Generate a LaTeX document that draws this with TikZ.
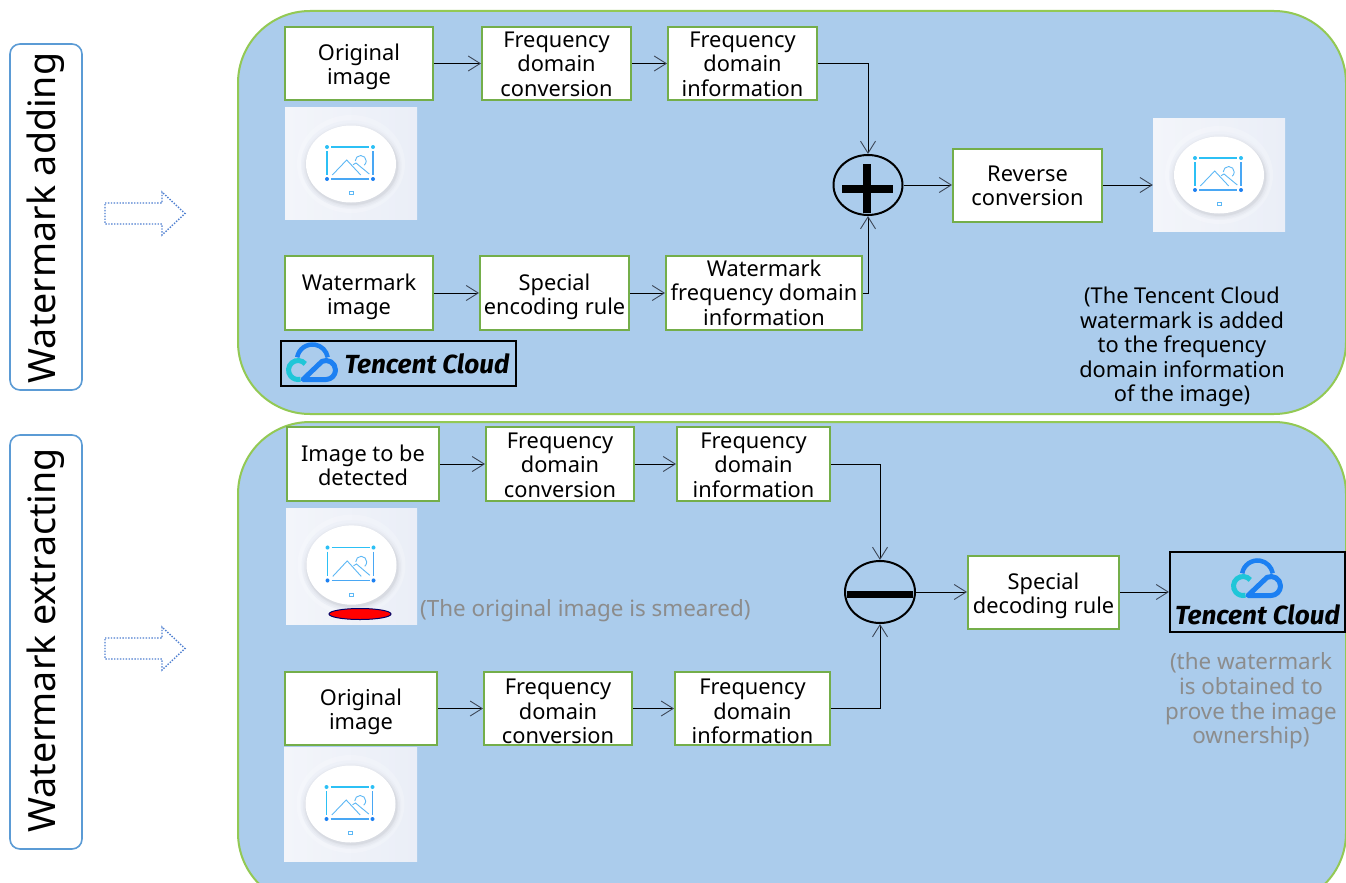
\documentclass[tikz,border=0pt]{standalone}
\usepackage{fontspec}
\setmainfont{Noto Sans}
\newfontfamily\logofont{Fira Sans}
\usetikzlibrary{arrows.meta,calc,shapes.geometric}
\definecolor{panelblue}{HTML}{ABCCEC}
\definecolor{panelgreen}{HTML}{93C954}
\definecolor{boxgreen}{HTML}{74AE4A}
\definecolor{labelblue}{HTML}{5B9BD5}
\definecolor{dotblue}{HTML}{4E7FD0}
\definecolor{graytext}{HTML}{8C8C8C}
\definecolor{thumbbg}{HTML}{EEF1F8}
\definecolor{thumbright}{HTML}{EAEEF7}
\definecolor{thumbleft}{HTML}{F3F5FA}
\definecolor{iconblue}{HTML}{5DB8F5}
\definecolor{iconcyan}{HTML}{2CC0F5}
\definecolor{cloudblue}{HTML}{1C80F2}
\definecolor{cloudcyan}{HTML}{1FC6D8}
\definecolor{headgray}{HTML}{3C4656}
\tikzset{
  panel/.style={draw=panelgreen,fill=panelblue,line width=2pt,rounded corners=72pt},
  box/.style={draw=boxgreen,fill=white,line width=2pt,inner sep=0pt,font=\fontsize{21.8}{24.4}\selectfont},
  sidebox/.style={draw=labelblue,fill=white,line width=1.6pt,rounded corners=10pt,minimum width=72pt,inner sep=0pt},
  sidetext/.style={rotate=90,font=\fontsize{37.6}{42}\selectfont,inner sep=0pt},
  conn/.style={draw=black,line width=0.9pt,-{Straight Barb[length=12pt,width=15pt,line width=0.9pt,color=headgray]}},
  thumbnode/.style={left color=thumbleft,right color=thumbright,inner sep=0pt},
  opnode/.style={draw=black,line width=2pt,fill=panelblue,minimum width=69pt,minimum height=60pt,ellipse,inner sep=0pt},
  logobox/.style={draw=black,line width=2pt,inner sep=0pt},
  logotext/.style={font=\logofont\bfseries\itshape\fontsize{26.2}{28}\selectfont,inner sep=0pt},
  note/.style={align=center,inner sep=0pt,font=\fontsize{21.8}{24.4}\selectfont},
  graynote/.style={note,text=graytext,font=\fontsize{22.4}{24.6}\selectfont},
  dotarrow/.style={draw=dotblue,line width=1.4pt,dash pattern=on 1.4pt off 1.5pt},
}
% centred multi-line text moved down by #1 without changing the node's size
\newcommand{\dn}[2]{\raisebox{-#1pt}[\height][\depth]{\begin{tabular}{@{}c@{}}#2\end{tabular}}}
% picture thumbnail details, centred at #1, scaled #2 #3
\newcommand{\thumbdetail}[3]{%
  \begin{scope}[shift={(#1)},xscale=#2,yscale=#3]
    \fill[white,opacity=.2] (0,1) ellipse [x radius=54,y radius=49];
    \fill[thumbbg] (0,1.5) ellipse [x radius=50,y radius=44];
    \foreach \r/\o in {5/.012,3.5/.018,2/.025,1/.03}{\fill[black,opacity=\o] (1,3) ellipse [x radius=45+\r,y radius=38+\r];}
    \fill[white] (0,1) ellipse [x radius=45,y radius=38.5];
    \draw[iconcyan,line width=1.1pt] (-20,-16) -- (18,-16) (-24,-12) -- (-24,12);
    \draw[iconblue!70!cloudblue,line width=1.1pt] (-20,16) -- (18,16) (22,-12) -- (22,12);
    \foreach \px/\py in {-24/-16,22/-16}{\fill[iconcyan] (\px,\py) circle [radius=2];}
    \foreach \px/\py in {-24/16,22/16}{\fill[cloudblue] (\px,\py) circle [radius=2];}
    \draw[iconblue,line width=.9pt] (-18.7,12) -- (-4.3,-3) -- (9.7,12);
    \draw[iconblue,line width=.9pt] (2,1.7) -- (5,0) -- (18.3,11);
    \draw[iconblue,line width=.9pt] (4.2,-2) arc [start angle=-180,end angle=50,radius=5.5];
    \draw[iconblue,line width=.8pt] (-2,28.5) rectangle (2,31);
  \end{scope}}
\newcommand{\cloudicon}[1]{%
  \begin{scope}[shift={(#1)}]
    \draw[cloudblue,line width=4.5pt] (-14.8,-5.7) arc [start angle=-170,end angle=-10,radius=15.5];
    \draw[cloudcyan,line width=5pt] (-6.7,0.9) arc [start angle=-40,end angle=-285,radius=9.5];
    \draw[cloudblue,line width=5pt,line join=round] (-9,16.5) -- (14,16.5) arc [start angle=90,end angle=-115,radius=9.5] -- cycle;
  \end{scope}}
\begin{document}
\begin{tikzpicture}[x=1pt,y=-1pt]
\useasboundingbox (0,0) rectangle (1346,883);
\fill[white] (0,0) rectangle (1346,883);

% side labels
\node[sidebox,minimum height=346pt] (sideA) at (46,217) {};
\node[sidetext] (sideAt) at (46,218) {Watermark adding};
\node[sidebox,minimum height=414pt] (sideB) at (46,642) {};
\node[sidetext] (sideBt) at (46,640.5) {Watermark extracting};

% dotted arrows
\draw[dotarrow] (105,203) -- (162,203) -- (162,192) -- (185,213.5) -- (162,235) -- (162,224) -- (105,224) -- cycle;
\draw[dotarrow] (105,638) -- (162,638) -- (162,627) -- (185,648.5) -- (162,670) -- (162,659) -- (105,659) -- cycle;

% panels
\draw[panel] (238,11) rectangle (1346,414);
\draw[panel] (238,422) rectangle (1346,905);

% upper row
\node[box,minimum width=148pt,minimum height=73pt] (orig1) at (359,63.5) {\dn{4}{Original\\image}};
\node[box,minimum width=149pt,minimum height=73pt] (freq1) at (556.5,63.5) {\dn{3.5}{Frequency\\domain\\conversion}};
\node[box,minimum width=149pt,minimum height=73pt] (info1) at (742.5,63.5) {\dn{3.5}{Frequency\\domain\\information}};
\node[box,minimum width=148pt,minimum height=74pt] (wm) at (359,293) {\dn{4.5}{Watermark\\image}};
\node[box,minimum width=149pt,minimum height=74pt] (enc) at (554.5,293) {\dn{4.5}{Special\\encoding rule}};
\node[box,minimum width=196pt,minimum height=74pt] (wmf) at (764,293) {\dn{3}{Watermark\\frequency domain\\information}};
\node[opnode] (plus) at (868,185) {};
\fill[black] (863,164) rectangle (871,213);
\fill[black] (842,185) rectangle (893,193);
\node[box,minimum width=149pt,minimum height=73pt] (rev) at (1027.5,185) {\dn{3.5}{Reverse\\conversion}};
\node[thumbnode,minimum width=132pt,minimum height=112pt] (t1) at (351,163.5) {};
\thumbdetail{351,163}{1}{1}
\node[thumbnode,minimum width=132pt,minimum height=113pt] (t2) at (1219,174.5) {};
\thumbdetail{1219,174}{1}{1}
\node[logobox,minimum width=235pt,minimum height=45pt] (logo1) at (398.5,363.5) {};
\cloudicon{312,363}
\node[logotext] (logo1t) at (427,364) {Tencent Cloud};
\node[note] (note1) at (1182,347) {(The Tencent Cloud\\watermark is added\\to the frequency\\domain information\\of the image)};

\draw[conn] (orig1.east) -- (freq1.west);
\draw[conn] (freq1.east) -- (info1.west);
\draw[conn] (info1.east) -| (plus.north);
\draw[conn] (wm.east) -- (enc.west);
\draw[conn] (enc.east) -- (wmf.west);
\draw[conn] (wmf.east) -| (plus.south);
\draw[conn] (plus.east) -- (rev.west);
\draw[conn] (rev.east) -- (rev.east -| t2.west);

% lower row
\node[box,minimum width=152pt,minimum height=74pt] (det) at (363,464) {\dn{4.5}{Image to be\\detected}};
\node[box,minimum width=148pt,minimum height=74pt] (freq2) at (560,464) {\dn{4}{Frequency\\domain\\conversion}};
\node[box,minimum width=153pt,minimum height=74pt] (info2) at (753.5,464) {\dn{4}{Frequency\\domain\\information}};
\node[box,minimum width=152pt,minimum height=73pt] (orig2) at (361,708.5) {\dn{4}{Original\\image}};
\node[box,minimum width=148pt,minimum height=73pt] (freq3) at (558,708.5) {\dn{6}{Frequency\\domain\\conversion}};
\node[box,minimum width=155pt,minimum height=73pt] (info3) at (752.5,708.5) {\dn{6}{Frequency\\domain\\information}};
\node[opnode,minimum width=70pt,minimum height=62pt] (minus) at (880,592) {};
\fill[black] (847,591) rectangle (913,598);
\node[box,minimum width=151pt,minimum height=73pt] (dec) at (1043.5,592) {\dn{4.5}{Special\\decoding rule}};
\node[thumbnode,minimum width=131pt,minimum height=116pt] (t3) at (351.5,566) {};
\thumbdetail{351.5,564}{1}{1.03}
\node[draw=black!60!blue,line width=1pt,fill=red,ellipse,minimum width=62pt,minimum height=11pt,inner sep=0pt] (smear) at (360,614) {};
\node[graynote,anchor=west] (note2) at (420,611) {(The original image is smeared)};
\node[thumbnode,minimum width=133pt,minimum height=114pt] (t4) at (350.5,804) {};
\thumbdetail{350.5,803}{1}{1}
\node[logobox,minimum width=175pt,minimum height=80pt] (logo2) at (1257.5,592) {};
\cloudicon{1257,579}
\node[logotext] (logo2t) at (1257.5,615) {Tencent Cloud};
\node[graynote] (note3) at (1251,701) {(the watermark\\is obtained to\\prove the image\\ownership)};

\draw[conn] (det.east) -- (freq2.west);
\draw[conn] (freq2.east) -- (info2.west);
\draw[conn] (info2.east) -| (minus.north);
\draw[conn] (orig2.east) -- (freq3.west);
\draw[conn] (freq3.east) -- (info3.west);
\draw[conn] (info3.east) -| (minus.south);
\draw[conn] (minus.east) -- (dec.west);
\draw[conn] (dec.east) -- (logo2.west);
\end{tikzpicture}
\end{document}
